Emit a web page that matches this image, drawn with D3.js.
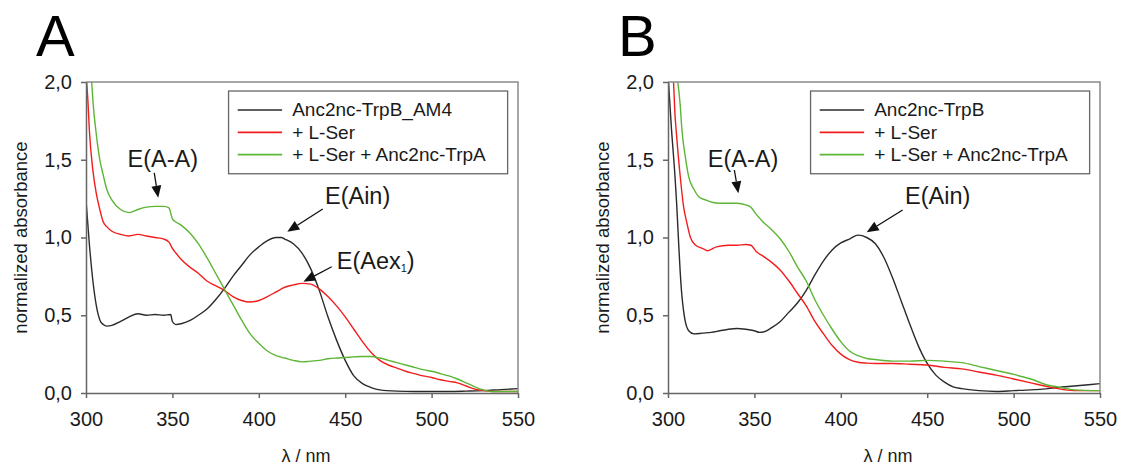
<!DOCTYPE html>
<html>
<head>
<meta charset="utf-8">
<script src="https://cdn.jsdelivr.net/npm/d3@7"></script>
<style>
  body { margin: 0; background: #fff; }
  svg text { font-family: "Liberation Sans", Arial, sans-serif; fill: #1a1a1a; }
</style>
</head>
<body>
<svg id="chart" width="1121" height="466"></svg>
<script>
// ---- data: [wavelength nm, normalized absorbance] ----
var aTrpB = [[300,1.24],[302,0.95],[304,0.72],[306,0.56],[308,0.47],[310,0.44],[312,0.43],[315,0.435],[320,0.46],[325,0.49],[330,0.51],[335,0.50],[340,0.505],[345,0.50],[349,0.505],[350,0.46],[352,0.44],[355,0.445],[360,0.465],[365,0.50],[370,0.54],[375,0.60],[380,0.67],[385,0.75],[390,0.82],[395,0.89],[400,0.94],[405,0.98],[410,1.0],[413,1.0],[415,0.99],[420,0.96],[425,0.90],[430,0.80],[435,0.66],[440,0.49],[445,0.34],[450,0.21],[455,0.11],[460,0.06],[465,0.035],[470,0.02],[480,0.012],[490,0.01],[500,0.01],[510,0.01],[520,0.012],[530,0.015],[540,0.022],[550,0.028]];
var aSer = [[300,2.05],[301,1.9],[302,1.68],[304,1.43],[306,1.28],[308,1.18],[310,1.10],[312,1.07],[315,1.04],[320,1.02],[325,1.01],[330,1.02],[335,1.01],[340,1.0],[345,0.99],[348,0.97],[350,0.93],[352,0.90],[355,0.86],[360,0.81],[365,0.77],[370,0.72],[375,0.69],[380,0.66],[385,0.62],[390,0.595],[395,0.585],[400,0.595],[405,0.62],[410,0.65],[415,0.68],[420,0.695],[425,0.705],[430,0.70],[435,0.67],[440,0.62],[445,0.56],[450,0.49],[455,0.41],[460,0.33],[465,0.26],[470,0.21],[475,0.18],[480,0.16],[485,0.14],[490,0.125],[495,0.11],[500,0.10],[505,0.085],[510,0.075],[515,0.065],[520,0.045],[525,0.025],[530,0.015],[535,0.01],[540,0.01],[550,0.01]];
var aSerTrpA = [[303,2.05],[304,1.88],[306,1.66],[308,1.5],[310,1.40],[312,1.31],[315,1.24],[320,1.18],[325,1.16],[330,1.18],[335,1.195],[340,1.20],[345,1.20],[348,1.19],[350,1.12],[352,1.10],[355,1.08],[360,1.03],[365,0.96],[370,0.87],[375,0.77],[380,0.67],[385,0.57],[390,0.47],[395,0.38],[400,0.32],[405,0.27],[410,0.24],[415,0.225],[420,0.21],[425,0.20],[430,0.205],[435,0.21],[440,0.22],[445,0.225],[450,0.228],[455,0.232],[460,0.235],[465,0.235],[470,0.225],[475,0.21],[480,0.195],[485,0.18],[490,0.165],[495,0.15],[500,0.14],[505,0.125],[510,0.11],[515,0.09],[520,0.065],[525,0.04],[530,0.02],[535,0.01],[540,0.01],[550,0.01]];

var bTrpB = [[300,2.05],[302,1.7],[304,1.4],[305,1.22],[306,1.0],[307,0.79],[308,0.63],[309,0.53],[310,0.46],[312,0.40],[315,0.38],[320,0.385],[325,0.39],[330,0.40],[335,0.41],[340,0.415],[345,0.41],[350,0.40],[353,0.39],[357,0.40],[360,0.42],[365,0.46],[370,0.52],[375,0.58],[380,0.66],[385,0.76],[390,0.85],[395,0.92],[400,0.965],[405,0.99],[410,1.015],[415,1.0],[420,0.96],[425,0.87],[430,0.74],[435,0.59],[440,0.44],[445,0.30],[450,0.19],[455,0.115],[460,0.07],[465,0.04],[470,0.028],[480,0.015],[490,0.01],[500,0.015],[510,0.02],[520,0.028],[530,0.04],[540,0.05],[550,0.06]];
var bSer = [[303,2.05],[304,1.8],[305,1.65],[307,1.4],[309,1.2],[311,1.09],[313,1.0],[316,0.95],[320,0.93],[323,0.915],[328,0.94],[335,0.95],[340,0.95],[345,0.955],[348,0.95],[351,0.91],[355,0.88],[360,0.84],[365,0.79],[370,0.72],[375,0.64],[380,0.56],[385,0.46],[390,0.38],[395,0.305],[400,0.25],[405,0.215],[410,0.198],[415,0.192],[420,0.19],[430,0.19],[440,0.185],[450,0.18],[460,0.165],[470,0.155],[480,0.135],[490,0.115],[500,0.09],[510,0.065],[520,0.04],[525,0.03],[530,0.02],[535,0.015],[550,0.015]];
var bSerTrpA = [[305,2.05],[307,1.86],[308,1.7],[310,1.52],[312,1.39],[315,1.31],[318,1.26],[322,1.24],[326,1.225],[330,1.22],[335,1.22],[340,1.22],[345,1.21],[348,1.195],[351,1.15],[355,1.10],[360,1.05],[365,0.99],[370,0.91],[375,0.81],[380,0.72],[385,0.60],[390,0.50],[395,0.41],[400,0.33],[405,0.27],[410,0.24],[415,0.222],[420,0.215],[430,0.205],[440,0.205],[450,0.21],[460,0.205],[465,0.20],[470,0.195],[480,0.17],[490,0.145],[500,0.12],[510,0.09],[520,0.05],[525,0.04],[530,0.03],[535,0.02],[550,0.015]];

var legendA = ["Anc2nc-TrpB_AM4", "+ L-Ser", "+ L-Ser + Anc2nc-TrpA"];
var legendB = ["Anc2nc-TrpB", "+ L-Ser", "+ L-Ser + Anc2nc-TrpA"];
var colors = ["#2b2b2b", "#f21d1d", "#5db535"];

var xTicks = [300, 350, 400, 450, 500, 550];
var yTicks = [0, 0.5, 1.0, 1.5, 2.0];

// annotations: label, text anchor (nm, abs), arrow from (nm, abs), arrow tip (nm, abs)
var notesA = [
  {label: "E(A-A)", at: [324.0, 1.455], from: [339.5, 1.415], to: [341.8, 1.256]},
  {label: "E(Ain)", at: [438.3, 1.215], from: [437.0, 1.183], to: [416.5, 1.037]},
  {label: "E(Aex", sub: "1", end: ")", at: [445.1, 0.80], from: [442.2, 0.812], to: [425.8, 0.716]}
];
var notesB = [
  {label: "E(A-A)", at: [323.0, 1.455], from: [338.4, 1.434], to: [340.7, 1.284]},
  {label: "E(Ain)", at: [437.2, 1.215], from: [435.8, 1.177], to: [415.0, 1.033]}
];

var svg = d3.select("#chart");

var drawPanel = function(opts)
{
    var plot = {left: opts.left, right: opts.left + 432, top: 82, bottom: 393};

    var xScale = d3.scaleLinear()
                   .domain([300, 550])
                   .range([plot.left, plot.right]);
    var yScale = d3.scaleLinear()
                   .domain([0, 2])
                   .range([plot.bottom, plot.top]);

    var g = svg.append("g");

    // panel letter
    g.append("text")
     .attr("x", plot.left - 50)
     .attr("y", 56)
     .style("font-size", "58px")
     .style("fill", "#000")
     .text(opts.letter);

    // clip so steep curves stop at the top border
    g.append("clipPath")
     .attr("id", "clip" + opts.letter)
     .append("rect")
     .attr("x", plot.left)
     .attr("y", plot.top)
     .attr("width", plot.right - plot.left)
     .attr("height", plot.bottom - plot.top);

    var line = d3.line()
                 .x(function(d) { return xScale(d[0]); })
                 .y(function(d) { return yScale(d[1]); })
                 .curve(d3.curveMonotoneX);

    g.append("g")
     .attr("clip-path", "url(#clip" + opts.letter + ")")
     .selectAll("path")
     .data(opts.series)
     .enter()
     .append("path")
     .attr("d", function(s) { return line(s); })
     .attr("fill", "none")
     .attr("stroke", function(s, i) { return colors[i]; })
     .attr("stroke-width", 1.4);

    // frame (top + right)
    g.append("path")
     .attr("d", "M" + plot.left + "," + plot.top + "H" + plot.right + "V" + plot.bottom)
     .attr("fill", "none")
     .attr("stroke", "#8a8a8a")
     .attr("stroke-width", 1.5);

    var xAxis = d3.axisBottom(xScale)
                  .tickValues(xTicks)
                  .tickSizeInner(5)
                  .tickSizeOuter(0)
                  .tickPadding(14)
                  .tickFormat(d3.format("d"));
    var yAxis = d3.axisLeft(yScale)
                  .tickValues(yTicks)
                  .tickSizeInner(5)
                  .tickSizeOuter(0)
                  .tickPadding(9)
                  .tickFormat(function(d) { return d3.format(".1f")(d).replace(".", ","); });

    var gx = g.append("g")
              .attr("transform", "translate(0," + plot.bottom + ")")
              .call(xAxis);
    var gy = g.append("g")
              .attr("transform", "translate(" + plot.left + ",0)")
              .call(yAxis);

    [gx, gy].forEach(function(ax)
    {
        ax.select(".domain").attr("stroke", "#666").attr("stroke-width", 1.5);
        ax.selectAll(".tick line").attr("stroke", "#666").attr("stroke-width", 1.5);
        ax.selectAll(".tick text")
          .style("font-size", "20px")
          .style("font-family", "'Liberation Sans', Arial, sans-serif")
          .attr("fill", "#1a1a1a");
    });

    // axis titles
    g.append("text")
     .attr("x", (plot.left + plot.right) / 2 + 4)
     .attr("y", 462)
     .attr("text-anchor", "middle")
     .style("font-size", "18px")
     .text("\u03BB / nm");

    g.append("text")
     .attr("transform", "translate(" + (plot.left - 59) + "," + ((plot.top + plot.bottom) / 2) + ") rotate(-90)")
     .attr("text-anchor", "middle")
     .style("font-size", "18.5px")
     .text("normalized absorbance");

    // legend
    var lg = g.append("g");
    var lx0 = xScale(382.5), lx1 = xScale(544);
    lg.append("rect")
      .attr("x", lx0)
      .attr("y", yScale(1.942))
      .attr("width", lx1 - lx0)
      .attr("height", yScale(1.41) - yScale(1.942))
      .attr("fill", "#fff")
      .attr("stroke", "#666")
      .attr("stroke-width", 1.3);

    var rows = [1.82, 1.676, 1.533];
    opts.legend.forEach(function(label, i)
    {
        lg.append("line")
          .attr("x1", xScale(387.8))
          .attr("x2", xScale(413.5))
          .attr("y1", yScale(rows[i]))
          .attr("y2", yScale(rows[i]))
          .attr("stroke", colors[i])
          .attr("stroke-width", 1.6);
        lg.append("text")
          .attr("x", xScale(419.3))
          .attr("y", yScale(rows[i]) + 6.5)
          .style("font-size", "19px")
          .text(label);
    });

    // annotations with arrows
    opts.notes.forEach(function(n)
    {
        var t = g.append("text")
                 .attr("x", xScale(n.at[0]))
                 .attr("y", yScale(n.at[1]))
                 .style("font-size", "23.5px")
                 .text(n.label);
        if (n.sub)
        {
            t.append("tspan").attr("dy", 3).style("font-size", "11px").text(n.sub);
            t.append("tspan").attr("dy", -3).text(n.end);
        }
        var x1 = xScale(n.from[0]), y1 = yScale(n.from[1]);
        var x2 = xScale(n.to[0]), y2 = yScale(n.to[1]);
        var ang = Math.atan2(y2 - y1, x2 - x1);
        var headLen = 12, headW = 5;
        var bx = x2 - headLen * Math.cos(ang), by = y2 - headLen * Math.sin(ang);
        g.append("line")
         .attr("x1", x1).attr("y1", y1)
         .attr("x2", bx).attr("y2", by)
         .attr("stroke", "#111")
         .attr("stroke-width", 1.3);
        var px = -Math.sin(ang) * headW, py = Math.cos(ang) * headW;
        g.append("path")
         .attr("d", "M" + x2 + "," + y2 + "L" + (bx + px) + "," + (by + py) + "L" + (bx - px) + "," + (by - py) + "Z")
         .attr("fill", "#111");
    });
}

drawPanel({letter: "A", left: 86, series: [aTrpB, aSer, aSerTrpA], legend: legendA, notes: notesA});
drawPanel({letter: "B", left: 668, series: [bTrpB, bSer, bSerTrpA], legend: legendB, notes: notesB});
</script>
</body>
</html>
